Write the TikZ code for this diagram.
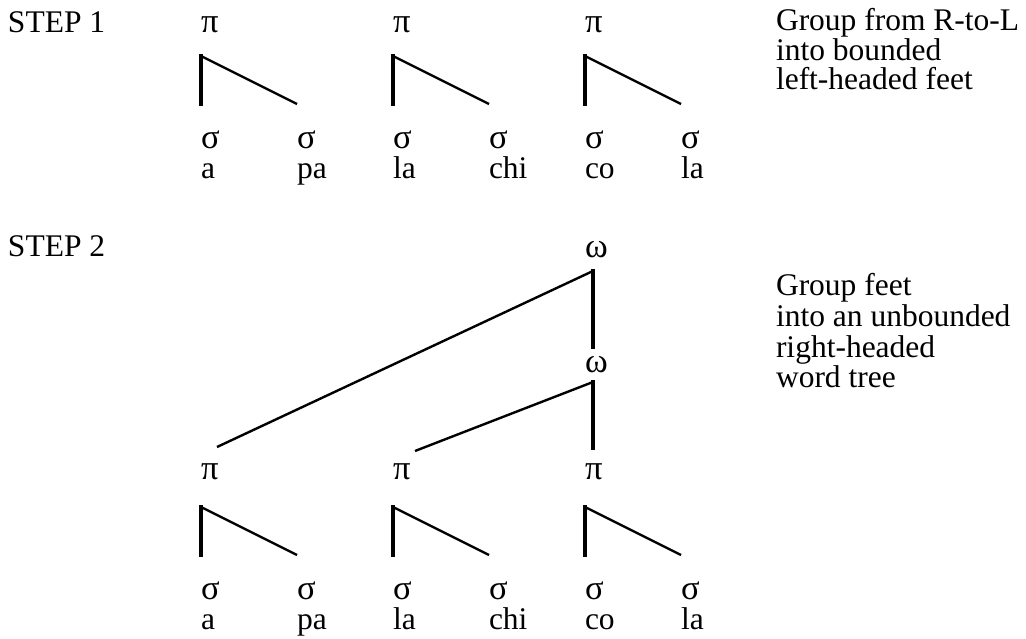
\documentclass[tikz,border=0pt]{standalone}
\usepackage{fontspec}
\setmainfont{Liberation Serif}
\begin{document}
\begin{tikzpicture}[x=1pt,y=-1pt,
  lbl/.style={anchor=base west,inner sep=0pt,outer sep=0pt,font=\fontsize{31.5}{30}\selectfont},
  gk/.style={lbl,font=\fontsize{34.5}{30}\selectfont},
  vline/.style={line width=3.2pt,line cap=rect},
  dline/.style={line width=2.4pt}]
\useasboundingbox (0,0) rectangle (1026,639);
% ---------- STEP 1 ----------
\node[lbl] (step1) at (8,33) {STEP 1};
\foreach \i/\x/\w/\v in {1/201/a/pa,2/393/la/chi,3/585/co/la}{
  \node[gk] (ap\i) at (\x,33) {π};
  \coordinate (at\i) at (\x,56);
  \coordinate (ab\i) at (\x,104);
  \coordinate (ae\i) at (\x+96,104);
  \draw[vline] (ab\i) -- (at\i);
  \draw[dline] (at\i) -- (ae\i);
  \node[gk] (asl\i) at (\x,149) {σ};
  \node[gk] (asr\i) at (\x+96,149) {σ};
  \node[lbl] (awl\i) at (\x,179) {\w};
  \node[lbl] (awr\i) at (\x+96,179) {\v};
}
\node[lbl] (t1a) at (776,31) {Group from R-to-L};
\node[lbl] (t1b) at (776,60.5) {into bounded};
\node[lbl] (t1c) at (776,90) {left-headed feet};
% ---------- STEP 2 ----------
\node[lbl] (step2) at (8,257) {STEP 2};
\node[gk] (w1) at (585,258) {ω};
\node[gk] (w2) at (585,372) {ω};
\coordinate (w1t) at (593,271);
\coordinate (w1b) at (593,347);
\coordinate (w2t) at (593,382);
\coordinate (w2b) at (593,448);
\coordinate (l1) at (217,447);
\coordinate (l2) at (415,451);
\draw[vline] (w1t) -- (w1b);
\draw[vline] (w2t) -- (w2b);
\draw[dline] (w1t) -- (l1);
\draw[dline] (w2t) -- (l2);
\foreach \i/\x/\w/\v in {1/201/a/pa,2/393/la/chi,3/585/co/la}{
  \node[gk] (bp\i) at (\x,479) {π};
  \coordinate (bt\i) at (\x,507);
  \coordinate (bb\i) at (\x,555);
  \coordinate (be\i) at (\x+96,555);
  \draw[vline] (bb\i) -- (bt\i);
  \draw[dline] (bt\i) -- (be\i);
  \node[gk] (bsl\i) at (\x,599) {σ};
  \node[gk] (bsr\i) at (\x+96,599) {σ};
  \node[lbl] (bwl\i) at (\x,629) {\w};
  \node[lbl] (bwr\i) at (\x+96,629) {\v};
}
\node[lbl] (t2a) at (776,296) {Group feet};
\node[lbl] (t2b) at (776,326.5) {into an unbounded};
\node[lbl] (t2c) at (776,357) {right-headed};
\node[lbl] (t2d) at (776,387.5) {word tree};
\end{tikzpicture}
\end{document}
